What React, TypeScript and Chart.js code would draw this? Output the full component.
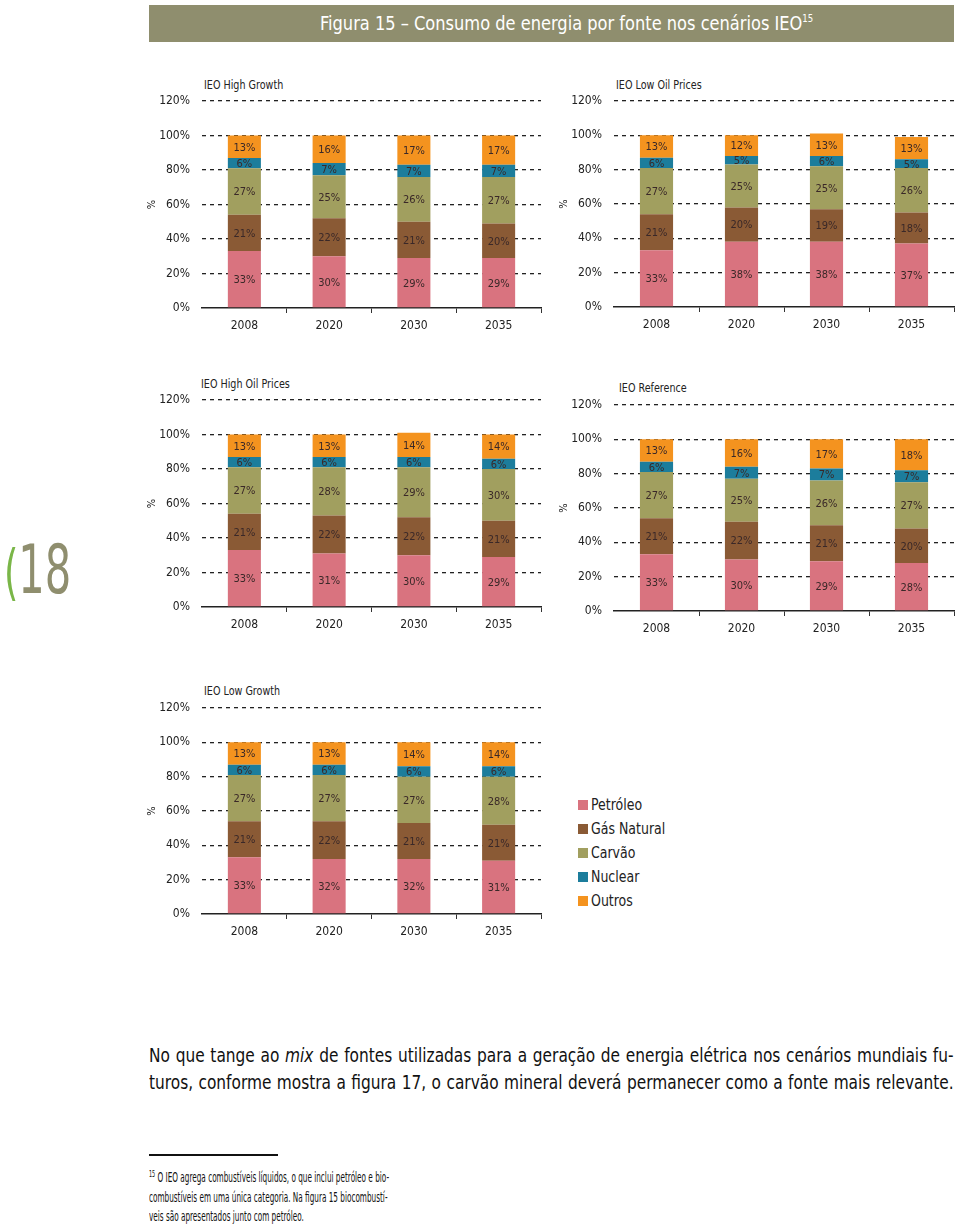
import React, { useEffect, useRef } from "react";
import { Chart, registerables } from "chart.js";

Chart.register(...registerables);

const FONT = '"Liberation Sans Narrow", "DejaVu Sans Condensed", "Roboto Condensed", Roboto, sans-serif';

const years = ["2008", "2020", "2030", "2035"];
const seriesNames = ["Petróleo", "Gás Natural", "Carvão", "Nuclear", "Outros"];
const seriesColors = ["#d9737f", "#8a5a35", "#a19f5f", "#1c7d9c", "#f4931f"];

// IEO High Growth
const highGrowthPetroleo = [33, 30, 29, 29];
const highGrowthGas = [21, 22, 21, 20];
const highGrowthCarvao = [27, 25, 26, 27];
const highGrowthNuclear = [6, 7, 7, 7];
const highGrowthOutros = [13, 16, 17, 17];

// IEO Low Oil Prices
const lowOilPetroleo = [33, 38, 38, 37];
const lowOilGas = [21, 20, 19, 18];
const lowOilCarvao = [27, 25, 25, 26];
const lowOilNuclear = [6, 5, 6, 5];
const lowOilOutros = [13, 12, 13, 13];

// IEO High Oil Prices
const highOilPetroleo = [33, 31, 30, 29];
const highOilGas = [21, 22, 22, 21];
const highOilCarvao = [27, 28, 29, 30];
const highOilNuclear = [6, 6, 6, 6];
const highOilOutros = [13, 13, 14, 14];

// IEO Reference
const referencePetroleo = [33, 30, 29, 28];
const referenceGas = [21, 22, 21, 20];
const referenceCarvao = [27, 25, 26, 27];
const referenceNuclear = [6, 7, 7, 7];
const referenceOutros = [13, 16, 17, 18];

// IEO Low Growth
const lowGrowthPetroleo = [33, 32, 32, 31];
const lowGrowthGas = [21, 22, 21, 21];
const lowGrowthCarvao = [27, 27, 27, 28];
const lowGrowthNuclear = [6, 6, 6, 6];
const lowGrowthOutros = [13, 13, 14, 14];

const yMax = 120;
const yStep = 20;

const segLabels = {
  id: "segLabels",
  afterDatasetsDraw(chart: any) {
    const ctx = chart.ctx;
    ctx.save();
    ctx.font = "11px " + FONT;
    ctx.fillStyle = "#3a2828";
    ctx.textAlign = "center";
    ctx.textBaseline = "middle";
    chart.data.datasets.forEach((ds: any, i: number) => {
      const meta = chart.getDatasetMeta(i);
      meta.data.forEach((el: any, j: number) => {
        const p = el.getProps(["x", "y", "base"], true);
        ctx.fillText(ds.data[j] + "%", p.x, (p.y + p.base) / 2 + 1);
      });
    });
    ctx.restore();
  },
};

type PanelProps = {
  title: string;
  series: number[][];
  plotLeft: number;
  plotRight: number;
  yTop: number;
  yBottom: number;
  titleX: number;
  titleY: number;
};

const Y_AXIS_W = 56;
const X_AXIS_H = 30;
const CANVAS_TOP_GAP = 12;
const PAD_TOP = 12;
const PAD_RIGHT = 2;

function Panel(props: PanelProps) {
  const ref = useRef<HTMLCanvasElement | null>(null);
  const { plotLeft, plotRight, yTop, yBottom } = props;
  const left = plotLeft - Y_AXIS_W;
  const top = yTop - CANVAS_TOP_GAP;
  const width = plotRight - plotLeft + Y_AXIS_W + PAD_RIGHT;
  const height = yBottom - yTop + CANVAS_TOP_GAP + X_AXIS_H;

  useEffect(() => {
    const canvas = ref.current;
    if (!canvas) return;
    const chart = new Chart(canvas, {
      type: "bar",
      data: {
        labels: years,
        datasets: props.series.map((d, i) => ({
          label: seriesNames[i],
          data: d,
          backgroundColor: seriesColors[i],
          borderWidth: 0,
          categoryPercentage: 1,
          barPercentage: 0.39,
        })),
      },
      options: {
        animation: false,
        responsive: false,
        maintainAspectRatio: false,
        layout: { padding: { top: PAD_TOP, right: PAD_RIGHT, left: 0, bottom: 0 } },
        plugins: { legend: { display: false }, tooltip: { enabled: false } },
        scales: {
          x: {
            stacked: true,
            grid: {
              display: true,
              drawOnChartArea: false,
              offset: true,
              tickLength: 5,
              lineWidth: 1,
              color: (c: any) => (c.index === 0 || c.index === years.length ? "rgba(0,0,0,0)" : "#333"),
            },
            border: { display: true, color: "#222", width: 1.5 },
            ticks: { font: { family: FONT, size: 12 }, color: "#222", padding: 6 },
            afterFit: (s: any) => {
              s.height = X_AXIS_H;
              s.paddingLeft = 0;
              s.paddingRight = 0;
            },
          },
          y: {
            stacked: true,
            min: 0,
            max: yMax,
            ticks: {
              stepSize: yStep,
              callback: (v: any) => v + "%",
              padding: 12,
              font: { family: FONT, size: 12 },
              color: "#222",
            },
            grid: {
              drawTicks: false,
              lineWidth: 1.3,
              color: (c: any) => (c.tick && c.tick.value === 0 ? "rgba(0,0,0,0)" : "#222"),
            },
            border: { display: false, dash: [4, 4] },
            title: { display: true, text: "%", font: { family: FONT, size: 11 }, color: "#222", padding: 0 },
            afterFit: (s: any) => {
              s.width = Y_AXIS_W;
              s.paddingTop = 0;
              s.paddingBottom = 0;
            },
          },
        },
      },
      plugins: [segLabels],
    } as any);

    // Align the plot area exactly with the reference geometry.
    const wantW = plotRight - plotLeft;
    const wantH = yBottom - yTop;
    let ca = chart.chartArea;
    const dw = wantW - (ca.right - ca.left);
    const dh = wantH - (ca.bottom - ca.top);
    if (Math.abs(dw) > 0.5 || Math.abs(dh) > 0.5) {
      chart.resize(Math.round(width + dw), Math.round(height + dh));
      chart.update();
      ca = chart.chartArea;
    }
    canvas.style.left = Math.round(plotLeft - ca.left) + "px";
    canvas.style.top = Math.round(yTop - ca.top) + "px";

    return () => chart.destroy();
  }, []);

  return (
    <>
      <div
        style={{
          position: "absolute",
          left: props.titleX,
          top: props.titleY - 9,
          fontFamily: FONT,
          fontSize: 13,
          lineHeight: "18px",
          color: "#222",
          whiteSpace: "nowrap",
          transform: "scaleX(0.82)",
          transformOrigin: "left center",
        }}
      >
        {props.title}
      </div>
      <canvas
        ref={ref}
        width={width}
        height={height}
        style={{ position: "absolute", left, top, width, height }}
      />
    </>
  );
}

export default function App() {
  const legendTop = 805;
  return (
    <div
      style={{
        position: "absolute",
        left: 0,
        top: 0,
        width: 960,
        height: 1224,
        overflow: "hidden",
        background: "#fff",
        fontFamily: FONT,
      }}
    >
      <div
        style={{
          position: "absolute",
          left: 149,
          top: 5,
          width: 805,
          height: 37,
          background: "#8f8e6e",
          color: "#fff",
          fontSize: 19,
          lineHeight: "37px",
          textAlign: "center",
        }}
      >
        <span style={{ display: "inline-block", transform: "scaleX(0.95)", marginLeft: 30 }}>
          Figura 15 – Consumo de energia por fonte nos cenários IEO
          <sup style={{ fontSize: 10, verticalAlign: "top", lineHeight: "28px" }}>15</sup>
        </span>
      </div>

      <Panel
        title="IEO High Growth"
        series={[highGrowthPetroleo, highGrowthGas, highGrowthCarvao, highGrowthNuclear, highGrowthOutros]}
        plotLeft={202}
        plotRight={541}
        yTop={101}
        yBottom={308}
        titleX={204}
        titleY={85}
      />
      <Panel
        title="IEO Low Oil Prices"
        series={[lowOilPetroleo, lowOilGas, lowOilCarvao, lowOilNuclear, lowOilOutros]}
        plotLeft={614}
        plotRight={954}
        yTop={101}
        yBottom={307}
        titleX={616}
        titleY={85}
      />
      <Panel
        title="IEO High Oil Prices"
        series={[highOilPetroleo, highOilGas, highOilCarvao, highOilNuclear, highOilOutros]}
        plotLeft={202}
        plotRight={541}
        yTop={400}
        yBottom={607}
        titleX={201}
        titleY={384}
      />
      <Panel
        title="IEO Reference"
        series={[referencePetroleo, referenceGas, referenceCarvao, referenceNuclear, referenceOutros]}
        plotLeft={614}
        plotRight={954}
        yTop={405}
        yBottom={611}
        titleX={619}
        titleY={388}
      />
      <Panel
        title="IEO Low Growth"
        series={[lowGrowthPetroleo, lowGrowthGas, lowGrowthCarvao, lowGrowthNuclear, lowGrowthOutros]}
        plotLeft={202}
        plotRight={541}
        yTop={708}
        yBottom={914}
        titleX={204}
        titleY={691}
      />

      {seriesNames.map((n, i) => (
        <div
          key={n}
          style={{
            position: "absolute",
            left: 578,
            top: legendTop + i * 24 - 10,
            height: 20,
            display: "flex",
            alignItems: "center",
            fontSize: 15,
            color: "#222",
            whiteSpace: "nowrap",
          }}
        >
          <span style={{ width: 10, height: 10, background: seriesColors[i], display: "inline-block", marginRight: 3 }} />
          <span style={{ display: "inline-block", transform: "scaleX(0.93)", transformOrigin: "left center" }}>{n}</span>
        </div>
      ))}

      <div
        style={{
          position: "absolute",
          left: 4,
          top: 532,
          fontSize: 68,
          lineHeight: "76px",
          color: "#8f8e6e",
          whiteSpace: "nowrap",
          transform: "scaleX(0.68)",
          transformOrigin: "left center",
        }}
      >
        <span style={{ color: "#7ab648", fontSize: 60 }}>(</span>18
      </div>

      <div
        style={{
          position: "absolute",
          left: 149,
          top: 1042,
          width: 894,
          fontSize: 19,
          lineHeight: "27px",
          color: "#111",
          transform: "scaleX(0.9)",
          transformOrigin: "left top",
        }}
      >
        <div style={{ textAlign: "justify", textAlignLast: "justify", whiteSpace: "nowrap" } as any}>
          No que tange ao <i>mix</i> de fontes utilizadas para a geração de energia elétrica nos cenários mundiais fu-
        </div>
        <div style={{ textAlign: "justify", textAlignLast: "justify", whiteSpace: "nowrap" } as any}>
          turos, conforme mostra a figura 17, o carvão mineral deverá permanecer como a fonte mais relevante.
        </div>
      </div>

      <div style={{ position: "absolute", left: 149, top: 1154, width: 129, height: 2, background: "#111" }} />
      <div
        style={{
          position: "absolute",
          left: 149,
          top: 1168,
          width: 420,
          fontSize: 13.5,
          lineHeight: "19.5px",
          color: "#111",
          transform: "scaleX(0.6)",
          transformOrigin: "left top",
        }}
      >
        <div style={{ whiteSpace: "nowrap" }}>
          <sup style={{ fontSize: 9, verticalAlign: "top", lineHeight: "12px" }}>15</sup> O IEO agrega combustíveis líquidos, o que inclui petróleo e bio-
        </div>
        <div style={{ whiteSpace: "nowrap" }}>combustíveis em uma única categoria. Na figura 15 biocombustí-</div>
        <div style={{ whiteSpace: "nowrap" }}>veis são apresentados junto com petróleo.</div>
      </div>
    </div>
  );
}
